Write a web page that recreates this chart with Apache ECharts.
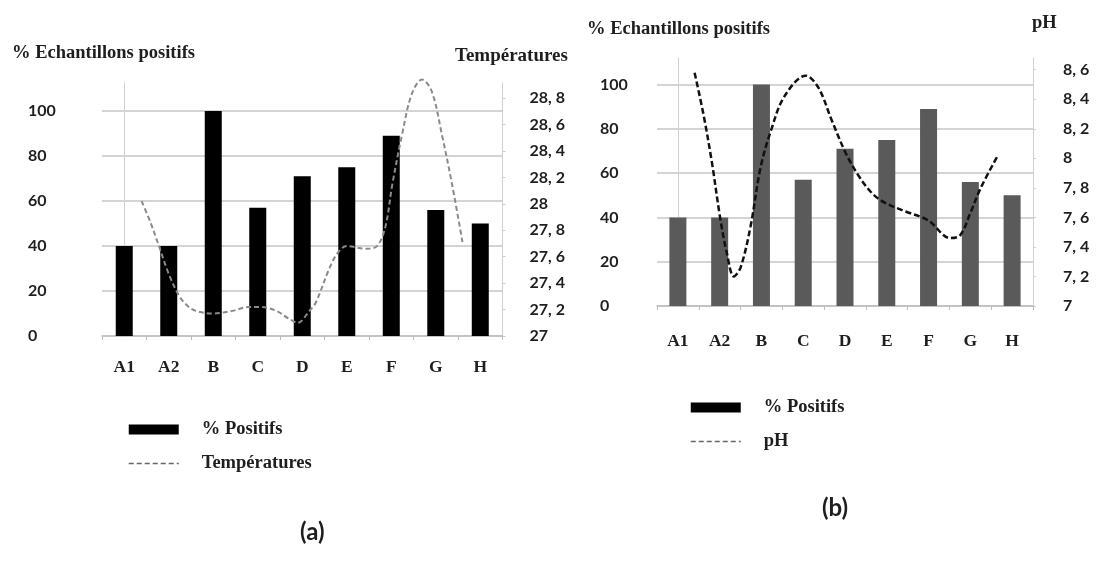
<!DOCTYPE html>
<html><head><meta charset="utf-8">
<script src="https://cdn.jsdelivr.net/npm/echarts@6/dist/echarts.min.js"></script>
<style>
html,body{margin:0;padding:0;background:#fff;width:1099px;height:563px;overflow:hidden;}
#a{position:absolute;left:0;top:0;width:568px;height:563px;}
#b{position:absolute;left:568px;top:0;width:531px;height:563px;}
</style></head><body>
<div id="a"></div><div id="b"></div>
<script>
// ---- data ----
const categories = ['A1','A2','B','C','D','E','F','G','H'];
const positifs = [40, 40, 100, 57, 71, 75, 89, 56, 50];
const percentTicks = [0, 20, 40, 60, 80, 100];
const temperatureTicks = [27, 27.2, 27.4, 27.6, 27.8, 28, 28.2, 28.4, 28.6, 28.8];
const phTicks = [7, 7.2, 7.4, 7.6, 7.8, 8, 8.2, 8.4, 8.6];
// curve points: [position along category axis (index units), value]
const temperatureCurve = [
  [0.39,28.02],[0.6,27.85],[0.79,27.67],[1.0,27.47],[1.24,27.30],[1.45,27.22],[1.61,27.19],
  [1.98,27.17],[2.43,27.19],[2.8,27.22],[3.04,27.22],[3.42,27.19],[3.7,27.13],[3.9,27.10],
  [4.16,27.19],[4.3,27.25],[4.62,27.52],[4.8,27.63],[5.0,27.68],[5.43,27.66],[5.68,27.68],
  [5.87,27.83],[6.02,28.14],[6.24,28.52],[6.46,28.83],[6.69,28.94],[6.91,28.85],[7.14,28.52],
  [7.37,28.14],[7.6,27.71]
];
const phCurve = [
  [0.40,8.58],[0.61,8.30],[0.81,7.98],[1.01,7.60],[1.17,7.36],[1.34,7.20],[1.5,7.26],
  [1.74,7.54],[1.98,7.94],[2.23,8.19],[2.55,8.42],[3.06,8.56],[3.36,8.48],[3.68,8.26],
  [4.01,8.04],[4.33,7.88],[4.66,7.76],[4.95,7.70],[5.45,7.64],[5.99,7.58],[6.52,7.46],
  [6.76,7.48],[7.0,7.63],[7.25,7.80],[7.66,8.02]
];

// ---- styling helpers ----
const SERIF = '"Liberation Serif", "Times New Roman", serif';
const SANS = 'Lato, "Open Sans", sans-serif';
const INK = '#1e1e1e';
function fmt(ticks){
  return function(v){
    const t = ticks.find(x => Math.abs(x - v) < 1e-6);
    if (t === undefined) return '';
    return Number.isInteger(t) ? String(t) : t.toFixed(1).replace('.', ', ');
  };
}
const numLabel = {fontFamily: SANS, fontWeight: 'bold', fontSize: 16, color: INK};
const catLabel = {fontFamily: SERIF, fontWeight: 'bold', fontSize: 17.5, color: INK};

function buildOption(cfg){
  return {
    animation: false,
    backgroundColor: '#fff',
    grid: {left: cfg.gridLeft, top: cfg.gridTop, width: cfg.gridWidth, height: cfg.gridHeight, containLabel: false},
    xAxis: [
      {type: 'category', data: categories, gridIndex: 0,
        axisLine: {lineStyle: {color: '#bdbdbd', width: 1.5}},
        axisTick: {show: true, length: 4, lineStyle: {color: '#bdbdbd'}},
        axisLabel: Object.assign({margin: cfg.catMargin, interval: 0}, catLabel)},
      {type: 'value', min: -0.5, max: 8.5, show: false, gridIndex: 0}
    ],
    yAxis: [
      {type: 'value', min: 0, max: cfg.leftMax, interval: 20, position: 'left',
        axisLine: {show: true, lineStyle: {color: '#d0d0d0', width: 1}},
        axisTick: {show: false},
        splitLine: {show: true, showMaxLine: false, lineStyle: {color: '#c6c6c6', width: 1.5}},
        axisLabel: Object.assign({showMaxLabel: false, align: 'left', margin: cfg.leftMargin,
          padding: cfg.leftPad, formatter: fmt(percentTicks)}, numLabel)},
      {type: 'value', min: cfg.rightMin, max: cfg.rightMax, interval: 0.2, position: 'right',
        axisLine: {show: true, lineStyle: {color: '#d0d0d0', width: 1}},
        axisTick: {show: true, length: 3, lineStyle: {color: '#cfcfcf'}},
        splitLine: {show: false},
        axisLabel: Object.assign({showMaxLabel: false, align: 'left', margin: cfg.rightMargin,
          padding: cfg.rightPad, formatter: fmt(cfg.rightTicks)}, numLabel)}
    ],
    legend: {
      orient: 'vertical', left: cfg.legendLeft, top: cfg.legendTop, padding: 0,
      itemWidth: 50, itemHeight: 10, itemGap: 15,
      textStyle: {fontFamily: SERIF, fontWeight: 'bold', fontSize: 18.5, color: INK, padding: [0,0,0,18]},
      data: [
        {name: '% Positifs', icon: 'rect', itemStyle: {color: '#000'}},
        {name: cfg.lineName, itemStyle: {opacity: 0}, lineStyle: {color: '#666', width: 1.5, type: [5, 3]}}
      ]
    },
    graphic: cfg.texts.map(t => ({
      type: 'text', left: t.x, top: t.y,
      style: {text: t.text, font: t.font, fill: INK}
    })),
    series: [
      {name: '% Positifs', type: 'bar', data: positifs, barWidth: 17,
        xAxisIndex: 0, yAxisIndex: 0, itemStyle: {color: cfg.barColor}},
      {name: cfg.lineName, type: 'line', data: cfg.curve, xAxisIndex: 1, yAxisIndex: 1,
        smooth: 0.35, showSymbol: false, symbol: 'none', clip: false,
        itemStyle: {color: cfg.lineColor},
        lineStyle: {color: cfg.lineColor, width: cfg.lineWidth, type: cfg.dash}}
    ]
  };
}

const chartA = echarts.init(document.getElementById('a'), null, {renderer: 'canvas'});
chartA.setOption(buildOption({
  gridLeft: 102, gridTop: 83, gridWidth: 402, gridHeight: 253,
  leftMax: 112.5, rightMin: 27, rightMax: 28.914, rightTicks: temperatureTicks,
  leftMargin: 74, rightMargin: 27, leftPad: [0,0,0,0], rightPad: [0,0,0,0], catMargin: 22,
  legendLeft: 128, legendTop: 420,
  lineName: 'Températures', curve: temperatureCurve,
  barColor: '#000', lineColor: '#8a8a8a', lineWidth: 2, dash: [5, 3],
  texts: [
    {text: '% Echantillons positifs', x: 12, y: 44, font: 'bold 18.5px ' + SERIF},
    {text: 'Températures', x: 455, y: 47, font: 'bold 19px ' + SERIF},
    {text: '(a)', x: 300, y: 520, font: 'bold 24px ' + SANS}
  ]
}));

const chartB = echarts.init(document.getElementById('b'), null, {renderer: 'canvas'});
chartB.setOption(buildOption({
  gridLeft: 89, gridTop: 58, gridWidth: 376, gridHeight: 248,
  leftMax: 112, rightMin: 7, rightMax: 8.6795, rightTicks: phTicks,
  leftMargin: 57, rightMargin: 30, leftPad: [10,0,0,0], rightPad: [18,0,0,0], catMargin: 26,
  legendLeft: 122, legendTop: 398,
  lineName: 'pH', curve: phCurve,
  barColor: '#5a5a5a', lineColor: '#111', lineWidth: 2.5, dash: [6, 3],
  texts: [
    {text: '% Echantillons positifs', x: 19, y: 20, font: 'bold 18.5px ' + SERIF},
    {text: 'pH', x: 464, y: 14, font: 'bold 18.5px ' + SERIF},
    {text: '(b)', x: 254, y: 496, font: 'bold 24px ' + SANS}
  ]
}));
</script>
</body></html>
